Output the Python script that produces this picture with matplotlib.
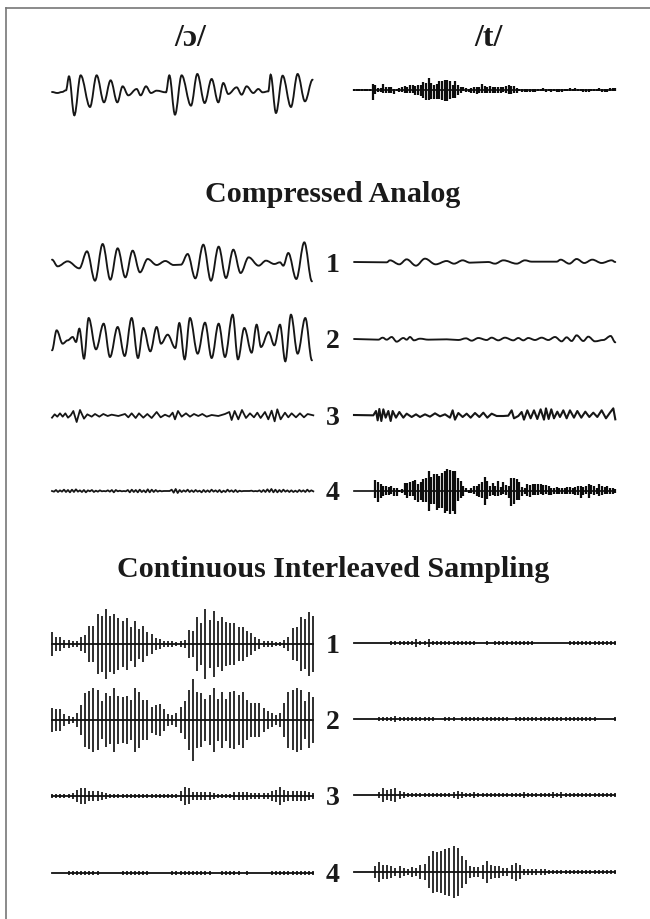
import matplotlib
matplotlib.use("Agg")
import numpy as np
import matplotlib.pyplot as plt
from matplotlib.path import Path
from matplotlib.patches import PathPatch

plt.rcParams['font.family'] = ['Liberation Serif', 'DejaVu Serif']

# all amplitudes and times are in thirds of a pixel

# top row
top_o_t = [36, 52, 66, 78, 87, 103, 122, 150, 170, 192, 212, 232, 248, 265, 290, 302, 318, 333, 350, 378, 388, 405, 425,
           453, 472, 494, 515, 535, 550, 565, 590, 605, 620, 640, 655, 668, 685, 692, 708, 728, 753, 773, 795, 818]
top_o_v = [0, -3, 0, 5, 47, -70, 50, -45, 50, -31, 35, -31, 17, -10, 9, -10, 17, -3, 4, -1, 50, -68, 50, -41, 54, -33,
           39, -31, 27, -6, 14, -8, 17, -3, 9, -1, 2, 52, -63, 49, -45, 54, -28, 37]
top_t_up = [2, 2, 2, 2, 2, 2, 2, 18, 16, 6, 6, 18, 10, 8, 8, 4, 3, 7, 10, 12, 9, 14, 15, 12, 14, 16, 24, 22, 36, 22, 15,
            18, 28, 28, 30, 30, 28, 16, 28, 14, 8, 8, 5, 3, 5, 8, 10, 10, 18, 12, 10, 12, 10, 8, 10, 8, 10, 12, 14, 13,
            12, 6, 3, 3, 3, 3, 3, 4, 4, 3, 3, 5, 4, 3, 3, 3, 3, 2, 2, 3, 4, 5, 4, 6, 4, 2, 2, 2, 2, 3, 3, 4, 5, 2, 3, 3,
            6, 7, 6]
top_t_down = [2, 2, 2, 2, 2, 2, 2, 30, 12, 6, 6, 8, 10, 8, 8, 12, 3, 7, 7, 8, 8, 10, 10, 14, 14, 17, 24, 30, 30, 28, 28,
              26, 28, 30, 34, 34, 26, 24, 24, 14, 8, 4, 5, 6, 10, 10, 12, 8, 10, 10, 8, 10, 10, 8, 8, 8, 6, 10, 12, 12,
              10, 8, 4, 5, 6, 6, 5, 5, 5, 3, 3, 3, 5, 4, 5, 4, 5, 6, 5, 4, 3, 3, 3, 3, 3, 4, 6, 5, 5, 4, 3, 3, 3, 5, 5,
              5, 3, 3, 2]

# compressed analog, vowel
ca1_o_t = [38, 55, 85, 120, 143, 167, 190, 213, 235, 258, 280, 302, 325, 352, 378, 403, 425, 445, 468, 492, 515, 538,
           560, 582, 604, 628, 658, 680, 705, 722, 732, 747, 771, 795, 818]
ca1_o_v = [13, -7, 8, -13, 38, -50, 60, -47, 47, -40, 40, -25, 15, -3, 9, -3, -2, 30, -43, 58, -50, 52, -42, 43, -27,
           20, -5, 10, 0, 5, -5, 33, -45, 65, -52]
ca2_o_t = [38, 52, 70, 85, 100, 110, 120, 134, 148, 170, 193, 212, 235, 256, 277, 296, 312, 333, 352, 365, 385, 408,
           420, 436, 452, 475, 497, 517, 538, 557, 580, 596, 615, 637, 652, 665, 688, 705, 722, 738, 755, 775, 798, 818]
ca2_o_v = [-25, 35, -5, 5, 15, 0, 40, -50, 72, -22, 55, -45, 45, -42, 72, -48, 42, -28, 45, -5, 22, -18, 57, -52, 72,
           -35, 58, -48, 55, -45, 82, -52, 42, -32, 52, -15, 30, -10, 52, -58, 82, -35, 72, -55]
ca3_o_t = [36, 44, 52, 60, 68, 76, 84, 92, 100, 110, 120, 132, 142, 155, 165, 178, 190, 203, 215, 235, 255, 265, 275,
           287, 297, 310, 322, 335, 350, 362, 375, 388, 398, 405, 414, 425, 438, 450, 462, 475, 487, 500, 515, 535, 555,
           568, 575, 584, 595, 606, 618, 630, 642, 652, 662, 675, 685, 695, 704, 712, 722, 735, 745, 755, 768, 780, 792,
           803, 820]
ca3_o_v = [-5, 5, -2, 8, -2, 8, -5, 2, 15, -18, 18, -8, 5, -2, 6, -2, 6, 0, 4, 0, 6, -4, 8, -6, 8, -5, 6, -6, 12, -4,
           4, -2, 10, -10, 15, -2, 8, -2, 6, 0, 6, -2, 3, 0, 6, 12, -12, 15, -10, 18, -6, 8, -4, 10, -6, 12, -10, 16, -16,
           20, -10, 10, -4, 8, -4, 8, -4, 6, 2]
ca4_o_v = [0, -2, 3, -3, 2, -2, 4, -3, 3, -4, 4, -3, 5, -2, 2, -3, 3, -4, 2, -1, 3, -3, 1, -2, 2, -1, 0, -1, 2, -2, 3,
           -4, 3, -1, 1, -1, 0, -1, 3, -4, 4, -3, 3, -4, 4, -3, 2, -4, 5, -4, 4, -3, 3, -2, 1, -1, 0, 0, 0, 0, 4, -5, 6,
           -6, 3, -3, 2, -2, 4, -3, 2, -3, 3, -2, 1, -4, 3, -3, 2, -3, 4, -2, 2, -3, 3, -4, 1, -3, 4, -2, 2, -3, 3, -3,
           1, -1, 0, 0, 0, 0, 1, -1, 0, -1, 2, -3, 3, -3, 5, -3, 6, -4, 4, -4, 3, -3, 4, -2, 2, -3, 2, -3, 1, -3, 3, -2,
           2, -3, 4, -2, 2, -1]

# compressed analog, consonant
ca1_t_t = [42, 140, 150, 178, 200, 228, 255, 287, 320, 342, 368, 390, 445, 465, 490, 530, 555, 575, 650, 662, 688, 710,
           733, 757, 785, 815, 826]
ca1_t_v = [0, -1, 5, -7, 8, -11, 10, -7, 3, -5, 5, -2, 0, -5, 5, -5, 5, 1, 1, 7, -5, 9, -3, 7, -3, 5, 0]
ca2_t_t = [42, 115, 128, 140, 155, 170, 190, 200, 210, 222, 240, 265, 320, 355, 378, 395, 415, 440, 455, 475, 495, 520,
           535, 550, 565, 585, 605, 625, 645, 665, 680, 695, 710, 730, 745, 765, 790, 812, 826]
ca2_t_v = [0, -2, 4, -2, 6, -8, 3, -2, 6, -4, 1, -2, -1, -3, 2, -5, 3, -3, 4, -4, 4, -4, 3, -4, 3, -3, 4, -3, 6, -7, 5,
           -6, 11, -6, 7, -7, -3, 9, -10]
ca3_t_t = [42, 100, 108, 113, 118, 124, 130, 137, 145, 152, 158, 168, 178, 190, 200, 215, 228, 240, 255, 270, 285, 300,
           315, 330, 338, 345, 355, 368, 380, 392, 405, 418, 430, 442, 455, 470, 490, 505, 515, 522, 535, 545, 552, 562,
           572, 582, 592, 602, 612, 618, 626, 634, 642, 652, 660, 670, 680, 690, 702, 712, 724, 736, 748, 760, 772, 785,
           798, 810, 820, 826]
ca3_t_v = [0, -1, 12, -16, 18, -18, 17, -8, 12, -18, 12, -8, 9, -8, 4, -6, 2, -6, 2, -5, 5, -4, 2, -8, 14, -14, 6, -6,
           4, -8, 6, -6, 7, -8, 4, -3, -3, -2, 14, -10, -3, 9, -14, 14, -10, 14, -12, 17, -14, 20, -12, 17, -10, 10, -6,
           14, -10, 14, -8, 12, -8, 10, -6, 7, -6, 14, -10, 7, 20, -13]
ca4_t_up = [1, 1, 1, 1, 1, 1, 1, 1, 32, 28, 20, 14, 14, 12, 14, 10, 8, 4, 5, 25, 24, 26, 30, 34, 20, 28, 36, 38, 60, 42,
            50, 50, 44, 54, 60, 66, 62, 60, 60, 40, 30, 14, 8, 2, 10, 14, 16, 20, 28, 42, 30, 14, 24, 14, 30, 12, 26, 18,
            16, 40, 38, 36, 26, 12, 8, 20, 18, 20, 20, 20, 22, 18, 18, 14, 10, 8, 12, 10, 8, 8, 12, 12, 10, 12, 14, 14,
            12, 16, 22, 18, 14, 10, 20, 14, 12, 14, 10, 10, 6]
ca4_t_down = [1, 1, 1, 1, 1, 1, 1, 1, 22, 32, 20, 15, 12, 12, 10, 14, 14, 4, 5, 12, 20, 14, 16, 28, 32, 28, 34, 32, 60,
              40, 40, 56, 50, 50, 66, 60, 70, 60, 68, 30, 20, 14, 4, 6, 6, 10, 14, 18, 22, 42, 24, 14, 12, 14, 16, 12, 10,
              12, 22, 46, 40, 26, 26, 14, 10, 14, 18, 12, 12, 12, 10, 12, 10, 12, 12, 8, 8, 8, 10, 10, 10, 10, 10, 12, 12,
              22, 12, 10, 22, 10, 12, 10, 14, 12, 10, 10, 10, 8, 6]

# continuous interleaved sampling, one amplitude per pulse
cis1_o = [37, 22, 22, 13, 12, 8, 8, 22, 28, 55, 55, 90, 85, 105, 85, 90, 78, 70, 78, 50, 70, 45, 55, 35, 30, 18, 15, 10,
          10, 8, 7, 10, 12, 42, 38, 80, 62, 105, 72, 100, 68, 80, 65, 62, 62, 50, 50, 38, 33, 22, 15, 10, 9, 8, 7, 6,
          12, 22, 48, 50, 80, 75, 97, 85]
cis2_o = [37, 33, 33, 18, 12, 9, 20, 44, 80, 88, 96, 90, 56, 82, 72, 95, 72, 68, 72, 60, 95, 85, 60, 60, 38, 45, 48, 33,
          18, 15, 22, 38, 58, 90, 122, 85, 80, 62, 75, 95, 62, 85, 62, 85, 88, 75, 85, 60, 50, 52, 50, 35, 28, 20, 14,
          22, 50, 85, 90, 97, 90, 58, 83, 70]
cis3_o = [5, 5, 5, 5, 5, 8, 18, 23, 23, 16, 14, 14, 12, 8, 7, 7, 6, 6, 6, 6, 6, 6, 6, 7, 7, 7, 7, 7, 7, 6, 6, 15, 28, 25,
          13, 12, 12, 11, 11, 8, 7, 6, 6, 7, 13, 13, 12, 12, 10, 10, 9, 8, 8, 14, 18, 28, 18, 15, 15, 14, 15, 14, 13, 8]
cis4_o = [1, 1, 1, 1, 6, 6, 6, 6, 6, 6, 6, 6, 1, 1, 1, 1, 1, 6, 6, 6, 6, 6, 6, 6, 1, 1, 1, 1, 1, 6, 6, 6, 6, 6, 6, 6, 6,
          6, 6, 1, 1, 6, 6, 6, 6, 6, 1, 6, 1, 1, 1, 1, 1, 6, 6, 6, 6, 6, 6, 6, 6, 6, 6, 6]
cis1_t = [1, 1, 1, 1, 1, 1, 1, 1, 1, 5, 6, 5, 6, 7, 7, 11, 7, 7, 12, 7, 7, 6, 7, 7, 6, 5, 5, 5, 5, 5, 1, 1, 6, 1, 5, 5, 5,
          5, 5, 5, 5, 5, 5, 5, 1, 1, 1, 1, 1, 1, 1, 1, 5, 5, 5, 5, 5, 5, 5, 5, 5, 5, 5, 5]
cis2_t = [1, 1, 1, 1, 1, 1, 5, 5, 5, 5, 9, 6, 5, 5, 5, 5, 5, 5, 5, 5, 1, 1, 5, 5, 5, 1, 5, 5, 5, 5, 5, 5, 5, 5, 5, 5, 5,
          5, 1, 5, 5, 5, 5, 5, 5, 5, 5, 5, 5, 5, 5, 5, 5, 5, 5, 5, 5, 5, 5, 1, 1, 1, 1, 5]
cis3_t = [1, 1, 1, 1, 1, 1, 8, 22, 15, 17, 20, 13, 8, 7, 7, 6, 6, 6, 6, 6, 6, 6, 7, 6, 8, 13, 8, 7, 7, 8, 7, 7, 7, 7, 7,
          7, 6, 6, 6, 5, 6, 9, 7, 7, 7, 7, 7, 7, 9, 6, 9, 6, 6, 6, 6, 6, 5, 6, 5, 7, 6, 6, 6, 5]
cis4_t = [1, 1, 1, 1, 1, 17, 30, 22, 20, 18, 12, 17, 12, 10, 16, 13, 22, 25, 47, 62, 60, 63, 70, 72, 78, 72, 48, 35, 17,
          15, 14, 20, 32, 22, 18, 18, 12, 12, 20, 28, 20, 10, 9, 8, 8, 8, 8, 7, 5, 5, 6, 6, 6, 6, 6, 7, 6, 6, 6, 6, 7, 7,
          6, 6]

numeros = ['1', '2', '3', '4']
cor = '#161616'

fig = plt.figure(figsize=(6.5, 9.2), dpi=100)


def eixo(x_px, y_px, xlim):
    # one small axes per trace, centred on the baseline at y_px
    ax = fig.add_axes([x_px / 650, 1 - (y_px + 45) / 920, 261.3 / 650, 90 / 920])
    ax.set_xlim(*xlim)
    ax.set_ylim(-135, 135)
    ax.axis('off')
    return ax


def suave(x_px, y_px, t, v, lw=1.35):
    # turning points joined with a sine-like bezier
    ax = eixo(x_px, y_px, (t[0], t[0] + 784))
    verts = [(t[0], v[0])]
    codes = [Path.MOVETO]
    for i in range(1, len(t)):
        dt = (t[i] - t[i - 1]) * 0.36
        verts += [(t[i - 1] + dt, v[i - 1]), (t[i] - dt, v[i]), (t[i], v[i])]
        codes += [Path.CURVE4, Path.CURVE4, Path.CURVE4]
    ax.add_patch(PathPatch(Path(verts, codes), fill=False, ec=cor, lw=lw, capstyle='round', clip_on=False))


def riscado(x_px, y_px, t, v, lw=1.3):
    ax = eixo(x_px, y_px, (t[0], t[0] + 784))
    ax.plot(t, v, color=cor, lw=lw, clip_on=False)


def ruido(x_px, y_px, v):
    ax = eixo(x_px, y_px, (0, len(v) - 1))
    ax.plot(range(len(v)), v, color=cor, lw=1.3, clip_on=False)


def denso(x_px, y_px, up, down):
    ax = eixo(x_px, y_px, (0, len(up) - 1))
    pos = range(len(up))
    ax.vlines(pos, -np.array(down), np.array(up), color='#0c0c0c', lw=1.6, clip_on=False)
    ax.plot([0, len(up) - 1], [0, 0], color='#0c0c0c', lw=1.2, clip_on=False)


def pulsos(x_px, y_px, amp):
    ax = eixo(x_px, y_px, (0, len(amp) - 1))
    a = np.array(amp)
    ax.vlines(range(len(amp)), -a, a, color='#262626', lw=1.35, clip_on=False)
    ax.plot([0, len(amp) - 1], [0, 0], color='#111111', lw=1.3, clip_on=False)


# moldura: only the top and left edges fall inside the scan
moldura = fig.add_axes([6 / 650, 0, 1, 1 - 9 / 920])
moldura.set_xticks([])
moldura.set_yticks([])
moldura.spines['right'].set_visible(False)
moldura.spines['bottom'].set_visible(False)
for lado in ['top', 'left']:
    moldura.spines[lado].set_color('#777777')
    moldura.spines[lado].set_linewidth(1.2)

suave(52, 93, top_o_t, top_o_v)
denso(354, 91, top_t_up, top_t_down)

suave(52, 265, ca1_o_t, ca1_o_v)
suave(52, 343, ca2_o_t, ca2_o_v)
riscado(52, 417, ca3_o_t, ca3_o_v)
ruido(52, 492, ca4_o_v)

suave(354, 263, ca1_t_t, ca1_t_v)
suave(354, 340, ca2_t_t, ca2_t_v)
riscado(354, 416, ca3_t_t, ca3_t_v, lw=1.5)
denso(354, 492, ca4_t_up, ca4_t_down)

pulsos(52, 645, cis1_o)
pulsos(52, 721, cis2_o)
pulsos(52, 797, cis3_o)
pulsos(52, 874, cis4_o)
pulsos(354, 644, cis1_t)
pulsos(354, 720, cis2_t)
pulsos(354, 796, cis3_t)
pulsos(354, 873, cis4_t)


def texto(x_px, y_px, s, size=21.6):
    fig.text(x_px / 650, 1 - y_px / 920, s, ha='center', va='center', fontsize=size,
             fontweight='bold', color='#1a1a1a')


texto(190, 38, '/ɔ/', 23)
texto(489, 38, '/t/', 23)
texto(333, 195, 'Compressed Analog')
texto(333, 570, 'Continuous Interleaved Sampling')
for n, y in zip(numeros, [265, 342, 419, 494]):
    texto(333, y, n, 20)
for n, y in zip(numeros, [647, 723, 799, 876]):
    texto(333, y, n, 20)

fig.savefig('out.png', dpi=100)
